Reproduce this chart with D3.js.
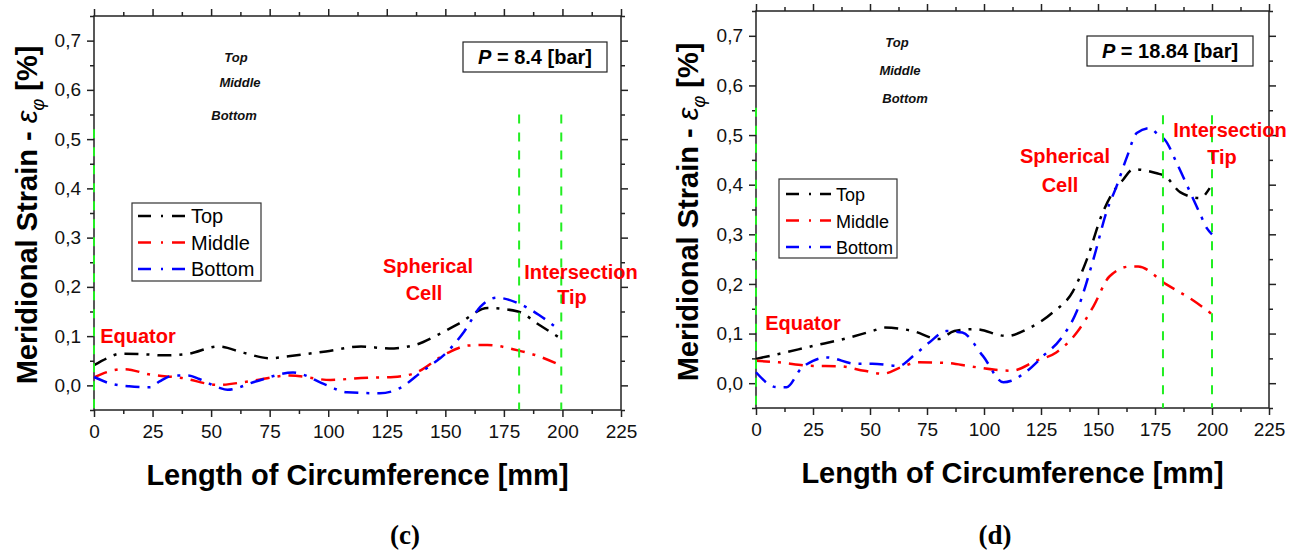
<!DOCTYPE html>
<html>
<head>
<meta charset="utf-8">
<script src="https://cdn.jsdelivr.net/npm/d3@7"></script>
<style>
  html, body { margin: 0; padding: 0; background: #fff; }
  svg { display: block; }
  text { font-family: "Liberation Sans", Arial, sans-serif; }
</style>
</head>
<body>
<svg id="chart" width="1300" height="554"></svg>
<script>
// ---------------- DATA ----------------
const xTickValues = [0, 25, 50, 75, 100, 125, 150, 175, 200, 225];
const xMinorValues = [12.5, 37.5, 62.5, 87.5, 112.5, 137.5, 162.5, 187.5, 212.5];
const yTickValues = [0, 0.1, 0.2, 0.3, 0.4, 0.5, 0.6, 0.7];
const yMinorValues = [-0.05, 0.05, 0.15, 0.25, 0.35, 0.45, 0.55, 0.65, 0.75];
const seriesNames = ["Top", "Middle", "Bottom"];
const seriesColors = ["#000000", "#ff0000", "#0000ff"];

// Panel (c): P = 8.4 bar
const cTopX = [0, 5.5, 11, 22, 29, 40, 53, 64, 75, 83, 99, 114, 126, 137, 147, 156, 168, 181, 190, 198];
const cTopY = [0.041, 0.055, 0.064, 0.063, 0.061, 0.064, 0.079, 0.066, 0.055, 0.059, 0.069, 0.079, 0.075, 0.082, 0.103, 0.126, 0.157, 0.150, 0.123, 0.099];
const cMidX = [0, 5.5, 13, 24, 37.5, 53, 66, 83.5, 101, 114, 128, 137, 151, 160, 168, 181, 190, 198.5];
const cMidY = [0.016, 0.027, 0.033, 0.022, 0.015, 0.001, 0.008, 0.020, 0.011, 0.015, 0.017, 0.025, 0.066, 0.081, 0.082, 0.071, 0.059, 0.042];
const cBotX = [0, 6.8, 15, 24, 28, 34, 40, 45, 53, 57, 69, 85, 99, 108, 122, 130, 140, 151, 158, 165, 172, 181, 190, 198.5];
const cBotY = [0.017, 0.004, -0.002, -0.004, 0.008, 0.020, 0.020, 0.013, -0.004, -0.009, 0.008, 0.026, 0.001, -0.014, -0.016, -0.007, 0.028, 0.069, 0.109, 0.160, 0.178, 0.167, 0.143, 0.113];
const cVLineX = [0, 181.5, 199.5];
const cVLineTop = [0.52, 0.55, 0.55];

// Panel (d): P = 18.84 bar
const dTopX = [0, 10, 25, 38.5, 51, 56.5, 69, 80, 87, 96, 110, 119, 130, 139, 145, 152, 156.6, 161, 165.4, 175.8, 179.5, 186, 194.7, 199];
const dTopY = [0.049, 0.059, 0.075, 0.089, 0.105, 0.112, 0.105, 0.089, 0.105, 0.109, 0.095, 0.109, 0.142, 0.185, 0.248, 0.343, 0.385, 0.410, 0.431, 0.423, 0.417, 0.385, 0.373, 0.393];
const dMidX = [0, 10, 24, 36.8, 47.5, 55.6, 63.6, 70.8, 83.4, 94, 105, 112, 122.8, 131.7, 140.7, 148, 155, 164, 167.6, 180, 191, 200];
const dMidY = [0.045, 0.042, 0.035, 0.034, 0.025, 0.019, 0.032, 0.042, 0.041, 0.034, 0.027, 0.025, 0.045, 0.062, 0.102, 0.155, 0.215, 0.235, 0.235, 0.199, 0.169, 0.139];
const dBotX = [0, 9, 13.4, 19.7, 25, 31, 44, 51, 62.7, 69, 76, 83.4, 90.5, 99.5, 108.5, 112, 119, 126, 133.6, 140.7, 148, 154, 158, 162.7, 167, 172.8, 176.5, 179.4, 184.6, 190, 194.7, 197.8, 200];
const dBotY = [0.022, -0.008, -0.008, 0.029, 0.045, 0.052, 0.039, 0.039, 0.035, 0.055, 0.082, 0.105, 0.102, 0.055, 0.002, 0.005, 0.025, 0.055, 0.089, 0.145, 0.250, 0.349, 0.395, 0.456, 0.504, 0.514, 0.500, 0.490, 0.443, 0.389, 0.342, 0.312, 0.300];
const dVLineX = [0, 178.5, 200];
const dVLineTop = [0.555, 0.54, 0.54];

// ---------------- DRAW ----------------
const svg = d3.select("#chart");
const fmtY = d => d3.format(".1f")(d).replace(".", ",");

function zip(xs, ys) { return xs.map((v, i) => [v, ys[i]]); }

function drawPanel(p) {
  const g = svg.append("g");
  const x = d3.scaleLinear().domain([0, 225]).range([p.left, p.right]);
  const y = d3.scaleLinear().domain([-0.05, 0.75]).range([p.bottom, p.top]);
  const axisColor = "#222";

  function styleAxis(sel) {
    sel.select(".domain").remove();
    sel.selectAll("line").attr("stroke", axisColor).attr("stroke-width", 1.5);
    sel.selectAll("text").attr("fill", "#111").style("font-size", "19px")
      .style("font-family", "'Liberation Sans', Arial, sans-serif");
  }
  // bottom
  g.append("g").attr("transform", `translate(0,${p.bottom})`)
    .call(d3.axisBottom(x).tickValues(xTickValues).tickSize(7).tickPadding(8).tickFormat(d => String(d))).call(styleAxis);
  g.append("g").attr("transform", `translate(0,${p.bottom})`)
    .call(d3.axisBottom(x).tickValues(xMinorValues).tickSize(4).tickFormat("")).call(styleAxis);
  // top
  g.append("g").attr("transform", `translate(0,${p.top})`)
    .call(d3.axisTop(x).tickValues(xTickValues).tickSize(7).tickFormat("")).call(styleAxis);
  g.append("g").attr("transform", `translate(0,${p.top})`)
    .call(d3.axisTop(x).tickValues(xMinorValues).tickSize(4).tickFormat("")).call(styleAxis);
  // left
  g.append("g").attr("transform", `translate(${p.left},0)`)
    .call(d3.axisLeft(y).tickValues(yTickValues).tickSize(7).tickPadding(6).tickFormat(fmtY)).call(styleAxis);
  g.append("g").attr("transform", `translate(${p.left},0)`)
    .call(d3.axisLeft(y).tickValues(yMinorValues).tickSize(4).tickFormat("")).call(styleAxis);
  // right
  g.append("g").attr("transform", `translate(${p.right},0)`)
    .call(d3.axisRight(y).tickValues(yTickValues).tickSize(7).tickFormat("")).call(styleAxis);
  g.append("g").attr("transform", `translate(${p.right},0)`)
    .call(d3.axisRight(y).tickValues(yMinorValues).tickSize(4).tickFormat("")).call(styleAxis);

  // frame
  g.append("rect").attr("x", p.left).attr("y", p.top)
    .attr("width", p.right - p.left).attr("height", p.bottom - p.top)
    .attr("fill", "none").attr("stroke", axisColor).attr("stroke-width", 1.5);

  // series lines
  const line = d3.line().x(d => x(d[0])).y(d => y(d[1])).curve(d3.curveMonotoneX);
  p.series.forEach((s, i) => {
    g.append("path").datum(s).attr("d", line)
      .attr("fill", "none").attr("stroke", seriesColors[i])
      .attr("stroke-width", 2.5).attr("stroke-dasharray", "14,8,3,8");
  });

  // green dashed vertical lines
  p.vx.forEach((v, i) => {
    g.append("line").attr("x1", x(v)).attr("x2", x(v))
      .attr("y1", y(p.vtop[i])).attr("y2", p.bottom)
      .attr("stroke", "#22ee22").attr("stroke-width", 2).attr("stroke-dasharray", "9,9");
  });

  // axis titles
  g.append("text").attr("x", (p.left + p.right) / 2).attr("y", p.xTitleY)
    .attr("text-anchor", "middle").style("font-size", "29px").style("font-weight", "bold")
    .attr("fill", "#000").text("Length of Circumference [mm]");

  const yt = g.append("text")
    .attr("transform", `translate(${p.yTitleX},${p.yTitleCY}) rotate(-90)`)
    .attr("text-anchor", "middle").style("font-size", "29px").style("font-weight", "bold").attr("fill", "#000");
  yt.append("tspan").text("Meridional Strain - ");
  yt.append("tspan").style("font-style", "italic").style("font-weight", "normal").text("ε");
  yt.append("tspan").attr("dy", 7).style("font-size", "18px").style("font-style", "italic").style("font-weight", "normal").text("φ");
  yt.append("tspan").attr("dy", -7).text(" [%]");

  // caption
  g.append("text").attr("x", p.capX).attr("y", 544).attr("text-anchor", "middle")
    .style("font-family", "'Liberation Serif', 'Times New Roman', serif")
    .style("font-size", "27px").style("font-weight", "bold").attr("fill", "#000").text(p.caption);

  // pressure box
  g.append("rect").attr("x", p.pBox[0]).attr("y", p.pBox[1]).attr("width", p.pBox[2]).attr("height", p.pBox[3])
    .attr("fill", "#fff").attr("stroke", "#222").attr("stroke-width", 1.2);
  const pt = g.append("text").attr("x", p.pBox[0] + p.pBox[2] / 2).attr("y", p.pBox[1] + p.pBox[3] / 2 + 7)
    .attr("text-anchor", "middle").style("font-size", "20px").style("font-weight", "bold").attr("fill", "#000");
  pt.append("tspan").style("font-style", "italic").text("P");
  pt.append("tspan").text(" = " + p.pressure + " [bar]");

  // small italic labels
  p.smallLabels.forEach((pos, i) => {
    g.append("text").attr("x", pos[0]).attr("y", pos[1]).attr("text-anchor", "middle")
      .style("font-size", "13px").style("font-weight", "bold").style("font-style", "italic")
      .attr("fill", "#111").text(seriesNames[i]);
  });

  // legend
  const L = p.legend;
  g.append("rect").attr("x", L.x0).attr("y", L.y0).attr("width", L.x1 - L.x0).attr("height", L.y1 - L.y0)
    .attr("fill", "#fff").attr("stroke", "#333").attr("stroke-width", 1.2);
  seriesNames.forEach((name, i) => {
    const by = L.base[i];
    g.append("line").attr("x1", L.s0).attr("x2", L.s1).attr("y1", by - 7).attr("y2", by - 7)
      .attr("stroke", seriesColors[i]).attr("stroke-width", 2.5).attr("stroke-dasharray", "13,10,2,9");
    g.append("text").attr("x", L.tx).attr("y", by).style("font-size", L.fs + "px")
      .attr("fill", "#000").text(name);
  });

  // red annotations
  p.annotations.forEach(a => {
    g.append("text").attr("x", a[1]).attr("y", a[2]).attr("text-anchor", "middle")
      .style("font-size", "20px").style("font-weight", "bold").attr("fill", "#ff0000").text(a[0]);
  });
}

drawPanel({
  left: 94, right: 621, top: 16, bottom: 410,
  series: [zip(cTopX, cTopY), zip(cMidX, cMidY), zip(cBotX, cBotY)],
  vx: cVLineX, vtop: cVLineTop,
  xTitleY: 485, yTitleX: 37, yTitleCY: 215, capX: 405, caption: "(c)",
  pBox: [463, 42, 144, 30], pressure: "8.4",
  smallLabels: [[236, 62], [240, 87], [234, 120]],
  legend: { x0: 132, y0: 203, x1: 261, y1: 281, s0: 138, s1: 185, tx: 191, base: [223, 249.5, 276], fs: 20 },
  annotations: [["Equator", 138, 343], ["Spherical", 428, 273], ["Cell", 424, 300], ["Intersection", 581, 279], ["Tip", 572, 304]]
});

drawPanel({
  left: 756, right: 1269, top: 11, bottom: 408,
  series: [zip(dTopX, dTopY), zip(dMidX, dMidY), zip(dBotX, dBotY)],
  vx: dVLineX, vtop: dVLineTop,
  xTitleY: 483, yTitleX: 698, yTitleCY: 212, capX: 995, caption: "(d)",
  pBox: [1087, 36, 166, 30], pressure: "18.84",
  smallLabels: [[897, 47], [900, 75], [905, 103]],
  legend: { x0: 779, y0: 179, x1: 897, y1: 258, s0: 786, s1: 831, tx: 836, base: [201, 227.5, 254], fs: 18 },
  annotations: [["Equator", 803, 330], ["Spherical", 1065, 163], ["Cell", 1060, 192], ["Intersection", 1230, 137], ["Tip", 1222, 164]]
});
</script>
</body>
</html>
